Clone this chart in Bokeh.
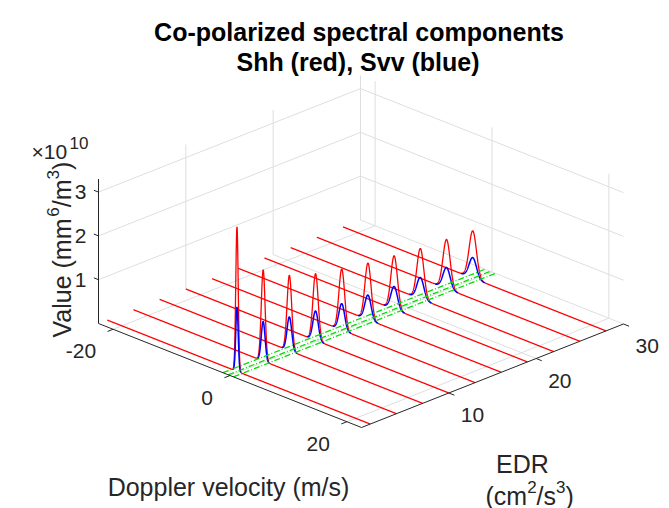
import numpy as np
from bokeh.plotting import figure
from bokeh.models import Range1d
from bokeh.embed import file_html
from bokeh.resources import INLINE
from bokeh.core.properties import value

# ---------------- data ----------------
edr = [1, 4, 7, 10, 13, 16, 19, 22, 25, 28]                      # cm^2/s^3
shh_peak = [3.30, 2.08, 1.72, 1.52, 1.39, 1.29, 1.22, 1.15, 1.12, 1.08]  # x1e10 mm^6/m^3
svv_peak = [1.47, 0.90, 0.77, 0.67, 0.60, 0.56, 0.52, 0.49, 0.48, 0.47]  # x1e10 mm^6/m^3
peak_sigma = [0.21, 0.33, 0.40, 0.45, 0.49, 0.53, 0.56, 0.59, 0.61, 0.63]  # m/s
peak_center = -0.3                                                # m/s
green_vel = [-1.2, -0.3, 0.6]                                     # m/s
green_edr = [0, 30]
x_ticks = [-20, 0, 20]
y_ticks = [10, 20, 30]
z_ticks = [1, 2, 3]
x_tick_labels = ["-20", "0", "20"]
y_tick_labels = ["10", "20", "30"]
z_tick_labels = ["1", "2", "3"]
x_lim = (-22.5, 22.5)
y_lim = (0.0, 30.0)
z_lim = (0.0, 3.3)

# ---------------- projection (MATLAB-like 3-D view) ----------------
O = (98.0, 323.0)
EX = (263.0 / 45.0, 104.0 / 45.0)
EY = (262.0 / 30.0, -103.5 / 30.0)
EZ = 43.8


def proj(v, e, z):
    v = np.asarray(v, dtype=float)
    e = np.asarray(e, dtype=float)
    z = np.asarray(z, dtype=float)
    u = v - x_lim[0]
    w = e - y_lim[0]
    sx = O[0] + u * EX[0] + w * EY[0] + 0 * z
    sy = O[1] + u * EX[1] + w * EY[1] - z * EZ
    return sx, sy


def unit(vec):
    n = (vec[0] ** 2 + vec[1] ** 2) ** 0.5
    return (vec[0] / n, vec[1] / n)


W, H = 669, 508
p = figure(width=W, height=H, output_backend="svg", toolbar_location=None,
           x_range=Range1d(0, W), y_range=Range1d(H, 0),
           min_border=0, min_border_left=0, min_border_right=0,
           min_border_top=0, min_border_bottom=0)
p.axis.visible = False
p.xgrid.visible = False
p.ygrid.visible = False
p.outline_line_color = None
p.background_fill_color = "white"
p.border_fill_color = "white"

GRID = "#dedede"
AX = "#262626"

# ---------------- grid lines ----------------
gx, gy = [], []
# floor
for t in x_ticks:
    a = proj([t, t], [y_lim[0], y_lim[1]], [0, 0])
    gx.append(list(a[0])); gy.append(list(a[1]))
for t in y_ticks:
    a = proj([x_lim[0], x_lim[1]], [t, t], [0, 0])
    gx.append(list(a[0])); gy.append(list(a[1]))
# left wall (x = xmin)
for t in z_ticks:
    a = proj([x_lim[0], x_lim[0]], [y_lim[0], y_lim[1]], [t, t])
    gx.append(list(a[0])); gy.append(list(a[1]))
for t in y_ticks:
    a = proj([x_lim[0], x_lim[0]], [t, t], [z_lim[0], z_lim[1]])
    gx.append(list(a[0])); gy.append(list(a[1]))
# back wall (y = ymax)
for t in z_ticks:
    a = proj([x_lim[0], x_lim[1]], [y_lim[1], y_lim[1]], [t, t])
    gx.append(list(a[0])); gy.append(list(a[1]))
for t in x_ticks:
    a = proj([t, t], [y_lim[1], y_lim[1]], [z_lim[0], z_lim[1]])
    gx.append(list(a[0])); gy.append(list(a[1]))
p.multi_line(gx, gy, line_color=GRID, line_width=1)

# ---------------- spectra ----------------
vel = np.linspace(x_lim[0], x_lim[1], 2401)
# Shh (red): full velocity range
for e, hs, s in zip(edr, shh_peak, peak_sigma):
    g = np.exp(-0.5 * ((vel - peak_center) / s) ** 2)
    rx, ry = proj(vel, np.full_like(vel, e), hs * g)
    p.line(rx, ry, line_color="#ff0000", line_width=1.3)
# Svv (blue): where it departs from the shared zero baseline
for e, hv, s in zip(edr, svv_peak, peak_sigma):
    m = np.abs(vel - peak_center) < 3.2 * s
    g = np.exp(-0.5 * ((vel[m] - peak_center) / s) ** 2)
    bx, by = proj(vel[m], np.full(m.sum(), e), hv * g)
    p.line(bx, by, line_color="#0000ff", line_width=1.5)

# green dash-dot lines
for gv in green_vel:
    lx, ly = proj([gv, gv], green_edr, [0, 0])
    p.line(lx, ly, line_color="#00e000", line_width=1.3, line_dash="6 2 1 2")

# ---------------- axes ----------------
ax_x, ax_y = proj([x_lim[0], x_lim[1]], [y_lim[0], y_lim[0]], [0, 0])
p.line(ax_x, ax_y, line_color=AX, line_width=1)
ay_x, ay_y = proj([x_lim[1], x_lim[1]], [y_lim[0], y_lim[1]], [0, 0])
p.line(ay_x, ay_y, line_color=AX, line_width=1)
az_x, az_y = proj([x_lim[0], x_lim[0]], [y_lim[0], y_lim[0]], [z_lim[0], z_lim[1]])
p.line(az_x, az_y, line_color=AX, line_width=1)

TL = 6.0
ux = unit((-EY[0], -EY[1]))
uy = unit(EX)
uz = unit((-EX[0], -EX[1]))
tx, ty = [], []
for t in x_ticks:
    sx, sy = proj(t, y_lim[0], 0)
    tx.append([float(sx), float(sx) + TL * ux[0]]); ty.append([float(sy), float(sy) + TL * ux[1]])
for t in y_ticks:
    sx, sy = proj(x_lim[1], t, 0)
    tx.append([float(sx), float(sx) + TL * uy[0]]); ty.append([float(sy), float(sy) + TL * uy[1]])
for t in z_ticks:
    sx, sy = proj(x_lim[0], y_lim[0], t)
    tx.append([float(sx), float(sx) + 5 * uz[0]]); ty.append([float(sy), float(sy) + 5 * uz[1]])
p.multi_line(tx, ty, line_color=AX, line_width=1)

FONT = value("Liberation Sans")

# tick labels
xs, ys = proj(np.array(x_ticks), np.full(3, y_lim[0]), np.zeros(3))
p.text(list(xs - 17), list(ys + 22), text=x_tick_labels, text_font=FONT,
       text_font_size="21px", text_color=AX, text_align="right", text_baseline="middle")
xs, ys = proj(np.full(3, x_lim[1]), np.array(y_ticks), np.zeros(3))
p.text(list(xs + 12), list(ys + 22), text=y_tick_labels, text_font=FONT,
       text_font_size="21px", text_color=AX, text_align="left", text_baseline="middle")
xs, ys = proj(np.full(3, x_lim[0]), np.full(3, y_lim[0]), np.array(z_ticks))
p.text(list(xs - 12), list(ys), text=z_tick_labels, text_font=FONT,
       text_font_size="21px", text_color=AX, text_align="right", text_baseline="middle")

# exponent
p.text([31], [151], text=["\u00d710"], text_font=FONT, text_font_size="21px",
       text_color=AX, text_align="left", text_baseline="alphabetic")
p.text([69], [142], text=["10"], text_font=FONT, text_font_size="17px",
       text_color=AX, text_align="left", text_baseline="alphabetic")

# title
p.text([358.5], [31.5], text=["Co-polarized spectral components"], text_font=FONT,
       text_font_size="25px", text_font_style="bold", text_color="black",
       text_align="center", text_baseline="alphabetic")
p.text([357.5], [61.5], text=["Shh (red), Svv (blue)"], text_font=FONT,
       text_font_size="25px", text_font_style="bold", text_color="black",
       text_align="center", text_baseline="alphabetic")

# x label
p.text([228], [486], text=["Doppler velocity (m/s)"], text_font=FONT,
       text_font_size="25px", text_color=AX, text_align="center", text_baseline="alphabetic")

# EDR label
p.text([522], [463], text=["EDR"], text_font=FONT,
       text_font_size="25px", text_color=AX, text_align="center", text_baseline="alphabetic")
pieces = [("(cm", 0, 25), ("2", 1, 17), ("/s", 0, 25), ("3", 1, 17), (")", 0, 25)]
adv = {"(": 0.333, "c": 0.5, "m": 0.833, "2": 0.556, "/": 0.278, "s": 0.5, "3": 0.556, ")": 0.333, "6": 0.556}
cx = 485.0
for txt, sup, fs in pieces:
    p.text([cx], [495 - (9 if sup else 0)], text=[txt], text_font=FONT,
           text_font_size=f"{fs}px", text_color=AX, text_align="left", text_baseline="alphabetic")
    cx += sum(adv[c] for c in txt) * fs

# z label (rotated)
vpieces = [("Value (mm", 0, 25), ("6", 1, 17), ("/m", 0, 25), ("3", 1, 17), (")", 0, 25)]
adv.update({"V": 0.667, "a": 0.556, "l": 0.222, "u": 0.556, "e": 0.556, " ": 0.278})
cy = 337.0
for txt, sup, fs in vpieces:
    p.text([61.5 - (9 if sup else 0)], [cy], text=[txt], text_font=FONT, angle=np.pi / 2,
           text_font_size=f"{fs}px", text_color=AX, text_align="left", text_baseline="alphabetic")
    cy -= sum(adv[c] for c in txt) * fs

open("out.html", "w").write(file_html(p, INLINE))
